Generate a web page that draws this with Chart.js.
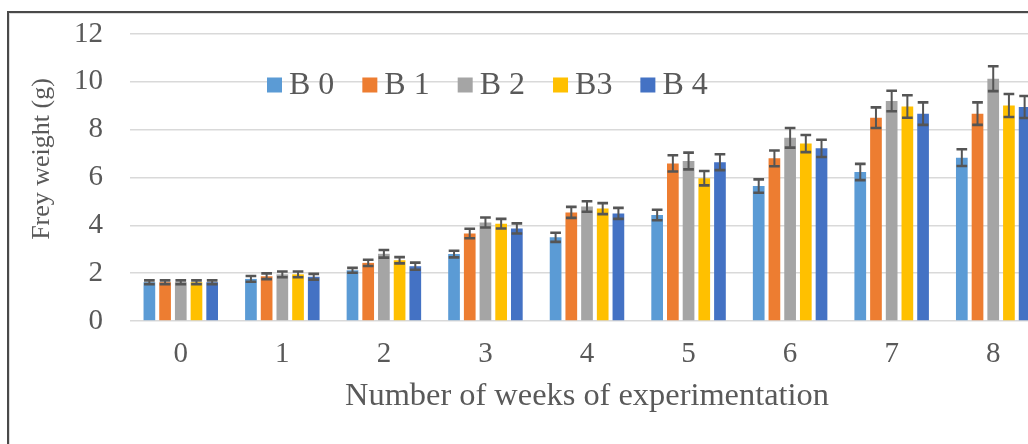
<!DOCTYPE html>
<html>
<head>
<meta charset="utf-8">
<script src="https://cdn.jsdelivr.net/npm/chart.js@4.4.1/dist/chart.umd.min.js"></script>
<style>
  html, body { margin: 0; padding: 0; background: #fff; overflow: hidden; width: 1028px; height: 444px; }
  #wrap { position: relative; width: 1028px; height: 444px; overflow: hidden; }
  #c { position: absolute; left: 0; top: 0; }
  #frame { position: absolute; left: 7px; top: 11px; width: 1200px; height: 600px;
           border-left: 2px solid #4a4a4a; border-top: 2px solid #4a4a4a;
           box-shadow: inset 1px 1px 0 #dcdcdc; pointer-events: none; }
</style>
</head>
<body>
<div id="wrap">
  <canvas id="c" width="1044" height="444"></canvas>
  <div id="frame"></div>
</div>
<script>
// Weeks of the experiment
const weeks = ['0', '1', '2', '3', '4', '5', '6', '7', '8'];

// Mean frey weight (g) per treatment
const b0 = [1.62, 1.76, 2.12, 2.80, 3.50, 4.43, 5.64, 6.23, 6.83];
const b1 = [1.62, 1.87, 2.43, 3.66, 4.54, 6.59, 6.80, 8.50, 8.67];
const b2 = [1.62, 1.95, 2.81, 4.12, 4.79, 6.69, 7.66, 9.20, 10.13];
const b3 = [1.62, 1.95, 2.54, 4.07, 4.70, 5.97, 7.42, 8.97, 9.01];
const b4 = [1.62, 1.85, 2.29, 3.87, 4.50, 6.64, 7.22, 8.67, 8.95];

// Standard deviation per treatment
const e0 = [0.08, 0.12, 0.10, 0.14, 0.19, 0.22, 0.28, 0.34, 0.35];
const e1 = [0.08, 0.12, 0.13, 0.20, 0.23, 0.34, 0.33, 0.43, 0.47];
const e2 = [0.08, 0.12, 0.16, 0.21, 0.22, 0.35, 0.41, 0.43, 0.52];
const e3 = [0.08, 0.12, 0.13, 0.20, 0.23, 0.30, 0.36, 0.47, 0.48];
const e4 = [0.08, 0.12, 0.15, 0.21, 0.23, 0.33, 0.36, 0.47, 0.46];

const seriesNames = ['B 0', 'B 1', 'B 2', 'B3', 'B 4'];
const seriesColors = ['#5B9BD5', '#ED7D31', '#A5A5A5', '#FFC000', '#4472C4'];
const seriesValues = [b0, b1, b2, b3, b4];
const seriesErrors = [e0, e1, e2, e3, e4];

const yTicks = [0, 2, 4, 6, 8, 10, 12];
const yTitle = 'Frey weight (g)';
const xTitle = 'Number of weeks of experimentation';

const FONT = "'Liberation Serif', 'Times New Roman', serif";
const TEXT = '#595959';

// Error bars: stem plus caps from the bar's own scale
const errorBars = {
  id: 'errorBars',
  afterDatasetsDraw(chart) {
    const ctx = chart.ctx;
    const y = chart.scales.y;
    ctx.save();
    ctx.strokeStyle = '#555555';
    chart.data.datasets.forEach((ds, di) => {
      const meta = chart.getDatasetMeta(di);
      meta.data.forEach((bar, i) => {
        const v = ds.data[i];
        const e = ds.errors[i];
        const yHi = y.getPixelForValue(v + e);
        const yLo = y.getPixelForValue(v - e);
        const half = bar.width / 2 - 0.5;
        ctx.lineWidth = 2;
        ctx.beginPath();
        ctx.moveTo(bar.x, yHi);
        ctx.lineTo(bar.x, yLo);
        ctx.stroke();
        ctx.lineWidth = 2.6;
        ctx.beginPath();
        ctx.moveTo(bar.x - half, yHi);
        ctx.lineTo(bar.x + half, yHi);
        ctx.moveTo(bar.x - half, yLo);
        ctx.lineTo(bar.x + half, yLo);
        ctx.stroke();
      });
    });
    ctx.restore();
  }
};

// Legend in a single row inside the plot area, and the vertical axis title
const innerLegend = {
  id: 'innerLegend',
  afterDraw(chart) {
    const ctx = chart.ctx;
    ctx.save();
    ctx.font = '32px ' + FONT;
    ctx.textBaseline = 'middle';
    ctx.textAlign = 'left';
    let x = 267;
    const cy = 85;
    chart.data.datasets.forEach((ds) => {
      ctx.fillStyle = ds.backgroundColor;
      ctx.fillRect(x, cy - 7.5, 15, 15);
      ctx.fillStyle = TEXT;
      ctx.fillText(ds.label, x + 22, cy + 1);
      x += 22 + ctx.measureText(ds.label).width + 28;
    });

    ctx.translate(42, 159);
    ctx.rotate(-Math.PI / 2);
    ctx.font = '26px ' + FONT;
    ctx.textAlign = 'center';
    ctx.fillText(yTitle, 0, 0);
    ctx.restore();
  }
};

new Chart(document.getElementById('c'), {
  type: 'bar',
  data: {
    labels: weeks,
    datasets: seriesNames.map((name, k) => ({
      label: name,
      data: seriesValues[k],
      errors: seriesErrors[k],
      backgroundColor: seriesColors[k],
      borderWidth: 0,
      categoryPercentage: 0.773,
      barPercentage: 0.745
    }))
  },
  options: {
    responsive: false,
    animation: false,
    devicePixelRatio: 1,
    layout: { padding: { top: 34, right: 0, left: 0, bottom: 0 } },
    plugins: {
      legend: { display: false },
      tooltip: { enabled: false }
    },
    scales: {
      x: {
        grid: { display: false, drawTicks: false },
        border: { display: false },
        ticks: { color: TEXT, font: { family: FONT, size: 29 }, padding: 16, maxRotation: 0 },
        title: {
          display: true,
          text: xTitle,
          color: TEXT,
          font: { family: FONT, size: 32.4 },
          padding: { top: 0, bottom: 28 }
        },
        afterFit(scale) {
          scale.height = 123;
          scale.paddingLeft = 0;
          scale.paddingRight = 0;
        }
      },
      y: {
        min: 0,
        max: 12,
        afterBuildTicks(scale) { scale.ticks = yTicks.map(v => ({ value: v })); },
        grid: { color: '#d9d9d9', lineWidth: 1.6, drawTicks: false },
        border: { display: false },
        ticks: { color: TEXT, font: { family: FONT, size: 29 }, padding: 27 },
        afterFit(scale) {
          scale.width = 130;
          scale.paddingTop = 0;
          scale.paddingBottom = 0;
        }
      }
    }
  },
  plugins: [errorBars, innerLegend]
});
</script>
</body>
</html>
